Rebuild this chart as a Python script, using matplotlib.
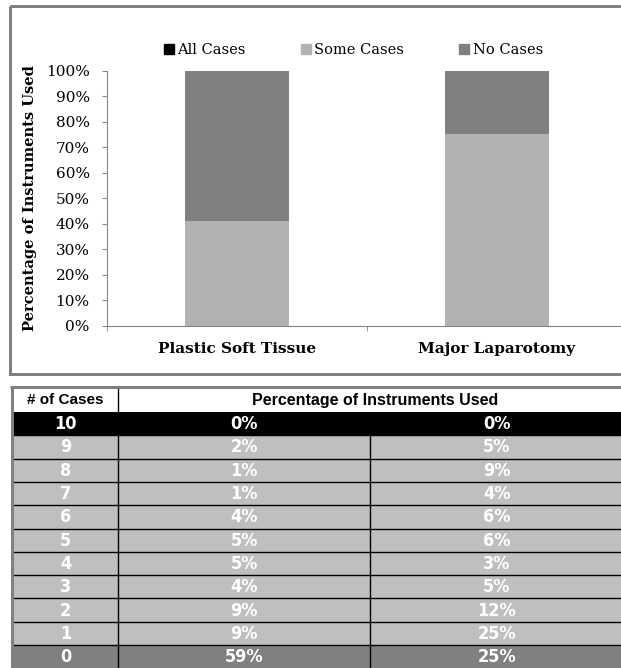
import matplotlib
matplotlib.use("Agg")
import matplotlib.pyplot as plt
from matplotlib.patches import Rectangle, Patch
from matplotlib import font_manager

#Bar chart data (percent of instruments)
categories = ["Plastic Soft Tissue", "Major Laparotomy"]
allCases = [0, 0]
someCases = [41, 75]
noCases = [59, 25]
seriesNames = ["All Cases", "Some Cases", "No Cases"]
seriesColors = ["#000000", "#B2B2B2", "#808080"]

#Table data
caseCounts = ["10", "9", "8", "7", "6", "5", "4", "3", "2", "1", "0"]
plasticPct = [0, 2, 1, 1, 4, 5, 5, 4, 9, 9, 59]
majorPct = [0, 5, 9, 4, 6, 6, 3, 5, 12, 25, 25]

plt.rcParams['font.family'] = ['DejaVu Serif']

W, H = 621, 668
fig = plt.figure(figsize=(W / 100, H / 100), dpi=100)

#Pixel overlay for frames and table
bg = fig.add_axes([0, 0, 1, 1], zorder=0)
bg.set_xlim(0, W)
bg.set_ylim(H, 0)
bg.axis('off')

border = '#808080'
bw = 3 * 0.72
bg.add_patch(Rectangle((9.5, 5.5), 660, 368.5, fill=False, edgecolor=border, linewidth=bw))

#Chart
ax = fig.add_axes([106.5 / W, 1 - 325.7 / H, (627 - 106.5) / W, (325.7 - 70.7) / H], zorder=2)
ax.patch.set_alpha(0)
x = range(len(categories))
width = 0.4
ax.bar(x, allCases, width, color=seriesColors[0], label=seriesNames[0])
ax.bar(x, someCases, width, bottom=allCases, color=seriesColors[1], label=seriesNames[1])
bottom2 = [a + s for a, s in zip(allCases, someCases)]
ax.bar(x, noCases, width, bottom=bottom2, color=seriesColors[2], label=seriesNames[2])

ax.set_xlim(-0.5, 1.5)
ax.set_ylim(0, 100)
ax.set_yticks(range(0, 101, 10))
ax.set_yticklabels(["{}%".format(v) for v in range(0, 101, 10)])
ax.set_xticks(list(x))
ax.set_xticklabels(categories, fontweight='bold', fontsize=11)
ax.set_xticks([-0.5, 0.5, 1.5], minor=True)
axisGray = '#868686'
ax.tick_params(axis='x', which='major', length=0, pad=12)
ax.tick_params(axis='x', which='minor', length=5 * 0.72, color=axisGray, direction='out')
ax.tick_params(axis='y', length=5 * 0.72, color=axisGray, direction='out', labelsize=11, pad=8.5)
for s in ['top', 'right']:
    ax.spines[s].set_visible(False)
for s in ['left', 'bottom']:
    ax.spines[s].set_color(axisGray)

fig.text(30 / W, 1 - 198 / H, "Percentage of Instruments Used", rotation=90,
         ha='center', va='center', fontweight='bold', fontsize=10.5)

handles = [Patch(color=c) for c in seriesColors]
fig.legend(handles, seriesNames, loc='center', bbox_to_anchor=(353.5 / W, 1 - 50 / H),
           ncol=3, frameon=False, handlelength=0.65, handleheight=0.65,
           handletextpad=0.25, columnspacing=3.8, fontsize=10.5)

#Table
colEdges = [13, 118, 370, 640]
headTop, headH = 388, 24
rowTop, rowH = 412, 23.3

#Narrow bold face for table cells, if a condensed one is installed
narrowFont = None
for f in font_manager.fontManager.ttflist:
    if f.name in ('Liberation Sans Narrow', 'DejaVu Sans') and f.stretch in ('condensed', 'semi-condensed', 500, 'narrow') \
            or f.name == 'Liberation Sans Narrow':
        if f.weight in ('bold', 700):
            narrowFont = f.fname
            break
if narrowFont is not None:
    cellProps = font_manager.FontProperties(fname=narrowFont, size=13)
else:
    cellProps = font_manager.FontProperties(family='Liberation Sans', weight='bold', size=12.5)

bg.add_patch(Rectangle((13, headTop), 620, headH, facecolor='white', edgecolor='none'))
bg.plot([118, 118], [headTop, headTop + headH], color='black', lw=1)
bg.text((colEdges[0] + colEdges[1]) / 2, headTop + headH / 2, "# of Cases",
        ha='center', va='center', fontsize=11, fontweight='bold', family=['Liberation Sans'])
bg.text(375, headTop + headH / 2, "Percentage of Instruments Used",
        ha='center', va='center', fontsize=11.5, fontweight='bold', family=['Liberation Sans'])

nRows = len(caseCounts)
for i, (c, p, m) in enumerate(zip(caseCounts, plasticPct, majorPct)):
    top = rowTop + i * rowH
    if i == 0:
        fc = '#000000'
    elif i == nRows - 1:
        fc = '#808080'
    else:
        fc = '#BFBFBF'
    bg.add_patch(Rectangle((13, top), 620, rowH, facecolor=fc, edgecolor='none'))
    if i > 0:
        bg.plot([13, 640], [top, top], color='black', lw=1)
        bg.plot([370, 370], [top, top + rowH], color='black', lw=1)
    bg.plot([118, 118], [top, top + rowH], color='black', lw=1)
    yc = top + rowH / 2 + 0.5
    for txt, (l, r) in zip([c, "{}%".format(p), "{}%".format(m)],
                           zip(colEdges[:-1], [118, 370, 624])):
        bg.text((l + r) / 2, yc, txt, ha='center', va='center', color='white',
                fontproperties=cellProps)

#Table outer border
bg.plot([11.5, 11.5], [386.5, H], color=border, lw=bw, solid_capstyle='butt')
bg.plot([10, W], [386.5, 386.5], color=border, lw=bw, solid_capstyle='butt')

fig.savefig("out.png", dpi=100)
